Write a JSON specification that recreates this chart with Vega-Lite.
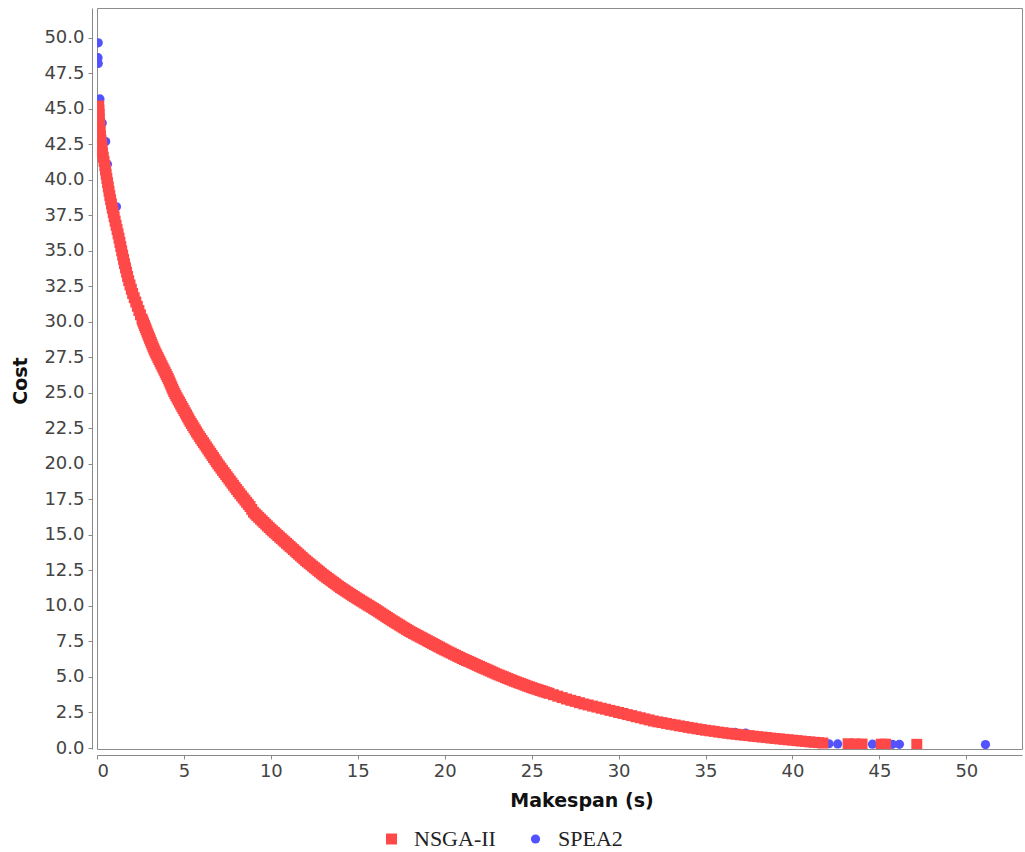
{
"$schema": "https://vega.github.io/schema/vega-lite/v6.json",
"width": 925, "height": 741,
"autosize": "none",
"padding": {"left": 97, "top": 8, "right": 3, "bottom": 103},
"background": "white",
"config": {"view": {"stroke": "#8c8c8c", "strokeWidth": 1}},
"data": {"values": [
{"algorithm":"SPEA2","makespan":0.07,"cost":49.65},
{"algorithm":"SPEA2","makespan":0.06,"cost":48.6},
{"algorithm":"SPEA2","makespan":0.07,"cost":48.2},
{"algorithm":"SPEA2","makespan":0.17,"cost":45.7},
{"algorithm":"SPEA2","makespan":0.3,"cost":44.0},
{"algorithm":"SPEA2","makespan":0.5,"cost":42.7},
{"algorithm":"SPEA2","makespan":0.6,"cost":41.1},
{"algorithm":"SPEA2","makespan":1.12,"cost":38.1},
{"algorithm":"SPEA2","makespan":32.0,"cost":1.9},
{"algorithm":"SPEA2","makespan":36.7,"cost":1.1},
{"algorithm":"SPEA2","makespan":37.3,"cost":1.04},
{"algorithm":"SPEA2","makespan":42.1,"cost":0.3},
{"algorithm":"SPEA2","makespan":42.6,"cost":0.29},
{"algorithm":"SPEA2","makespan":44.6,"cost":0.27},
{"algorithm":"SPEA2","makespan":45.75,"cost":0.26},
{"algorithm":"SPEA2","makespan":46.15,"cost":0.26},
{"algorithm":"SPEA2","makespan":51.1,"cost":0.24},
{"algorithm":"NSGA-II","makespan":0.1,"cost":45.2},
{"algorithm":"NSGA-II","makespan":0.11,"cost":44.9},
{"algorithm":"NSGA-II","makespan":0.12,"cost":44.6},
{"algorithm":"NSGA-II","makespan":0.13,"cost":44.3},
{"algorithm":"NSGA-II","makespan":0.14,"cost":44.0},
{"algorithm":"NSGA-II","makespan":0.16,"cost":43.7},
{"algorithm":"NSGA-II","makespan":0.18,"cost":43.4},
{"algorithm":"NSGA-II","makespan":0.2,"cost":43.1},
{"algorithm":"NSGA-II","makespan":0.23,"cost":42.8},
{"algorithm":"NSGA-II","makespan":0.26,"cost":42.5},
{"algorithm":"NSGA-II","makespan":0.29,"cost":42.2},
{"algorithm":"NSGA-II","makespan":0.315,"cost":41.9},
{"algorithm":"NSGA-II","makespan":0.36,"cost":41.6},
{"algorithm":"NSGA-II","makespan":0.405,"cost":41.3},
{"algorithm":"NSGA-II","makespan":0.45,"cost":41.0},
{"algorithm":"NSGA-II","makespan":0.489,"cost":40.7},
{"algorithm":"NSGA-II","makespan":0.528,"cost":40.4},
{"algorithm":"NSGA-II","makespan":0.567,"cost":40.1},
{"algorithm":"NSGA-II","makespan":0.608,"cost":39.8},
{"algorithm":"NSGA-II","makespan":0.65,"cost":39.5},
{"algorithm":"NSGA-II","makespan":0.692,"cost":39.2},
{"algorithm":"NSGA-II","makespan":0.736,"cost":38.9},
{"algorithm":"NSGA-II","makespan":0.784,"cost":38.6},
{"algorithm":"NSGA-II","makespan":0.832,"cost":38.3},
{"algorithm":"NSGA-II","makespan":0.88,"cost":38.0},
{"algorithm":"NSGA-II","makespan":0.934,"cost":37.7},
{"algorithm":"NSGA-II","makespan":0.988,"cost":37.4},
{"algorithm":"NSGA-II","makespan":1.042,"cost":37.1},
{"algorithm":"NSGA-II","makespan":1.098,"cost":36.8},
{"algorithm":"NSGA-II","makespan":1.155,"cost":36.5},
{"algorithm":"NSGA-II","makespan":1.212,"cost":36.2},
{"algorithm":"NSGA-II","makespan":1.267,"cost":35.9},
{"algorithm":"NSGA-II","makespan":1.318,"cost":35.6},
{"algorithm":"NSGA-II","makespan":1.369,"cost":35.3},
{"algorithm":"NSGA-II","makespan":1.42,"cost":35.0},
{"algorithm":"NSGA-II","makespan":1.474,"cost":34.7},
{"algorithm":"NSGA-II","makespan":1.528,"cost":34.4},
{"algorithm":"NSGA-II","makespan":1.582,"cost":34.1},
{"algorithm":"NSGA-II","makespan":1.64,"cost":33.8},
{"algorithm":"NSGA-II","makespan":1.7,"cost":33.5},
{"algorithm":"NSGA-II","makespan":1.76,"cost":33.2},
{"algorithm":"NSGA-II","makespan":1.825,"cost":32.9},
{"algorithm":"NSGA-II","makespan":1.9,"cost":32.6},
{"algorithm":"NSGA-II","makespan":1.975,"cost":32.3},
{"algorithm":"NSGA-II","makespan":2.05,"cost":32.0},
{"algorithm":"NSGA-II","makespan":2.14,"cost":31.7},
{"algorithm":"NSGA-II","makespan":2.23,"cost":31.4},
{"algorithm":"NSGA-II","makespan":2.32,"cost":31.1},
{"algorithm":"NSGA-II","makespan":2.41,"cost":30.8},
{"algorithm":"NSGA-II","makespan":2.5,"cost":30.5},
{"algorithm":"NSGA-II","makespan":2.59,"cost":30.2},
{"algorithm":"NSGA-II","makespan":2.682,"cost":29.9},
{"algorithm":"NSGA-II","makespan":2.778,"cost":29.6},
{"algorithm":"NSGA-II","makespan":2.874,"cost":29.3},
{"algorithm":"NSGA-II","makespan":2.97,"cost":29.0},
{"algorithm":"NSGA-II","makespan":3.069,"cost":28.7},
{"algorithm":"NSGA-II","makespan":3.168,"cost":28.4},
{"algorithm":"NSGA-II","makespan":3.267,"cost":28.1},
{"algorithm":"NSGA-II","makespan":3.38,"cost":27.8},
{"algorithm":"NSGA-II","makespan":3.5,"cost":27.5},
{"algorithm":"NSGA-II","makespan":3.62,"cost":27.2},
{"algorithm":"NSGA-II","makespan":3.74,"cost":26.9},
{"algorithm":"NSGA-II","makespan":3.86,"cost":26.6},
{"algorithm":"NSGA-II","makespan":3.98,"cost":26.3},
{"algorithm":"NSGA-II","makespan":4.1,"cost":26.0},
{"algorithm":"NSGA-II","makespan":4.205,"cost":25.7},
{"algorithm":"NSGA-II","makespan":4.31,"cost":25.4},
{"algorithm":"NSGA-II","makespan":4.415,"cost":25.1},
{"algorithm":"NSGA-II","makespan":4.54,"cost":24.8},
{"algorithm":"NSGA-II","makespan":4.675,"cost":24.5},
{"algorithm":"NSGA-II","makespan":4.81,"cost":24.2},
{"algorithm":"NSGA-II","makespan":4.945,"cost":23.9},
{"algorithm":"NSGA-II","makespan":5.08,"cost":23.6},
{"algorithm":"NSGA-II","makespan":5.215,"cost":23.3},
{"algorithm":"NSGA-II","makespan":5.35,"cost":23.0},
{"algorithm":"NSGA-II","makespan":5.5,"cost":22.7},
{"algorithm":"NSGA-II","makespan":5.65,"cost":22.4},
{"algorithm":"NSGA-II","makespan":5.8,"cost":22.1},
{"algorithm":"NSGA-II","makespan":5.96,"cost":21.8},
{"algorithm":"NSGA-II","makespan":6.125,"cost":21.5},
{"algorithm":"NSGA-II","makespan":6.29,"cost":21.2},
{"algorithm":"NSGA-II","makespan":6.455,"cost":20.9},
{"algorithm":"NSGA-II","makespan":6.62,"cost":20.6},
{"algorithm":"NSGA-II","makespan":6.785,"cost":20.3},
{"algorithm":"NSGA-II","makespan":6.95,"cost":20.0},
{"algorithm":"NSGA-II","makespan":7.13,"cost":19.7},
{"algorithm":"NSGA-II","makespan":7.31,"cost":19.4},
{"algorithm":"NSGA-II","makespan":7.49,"cost":19.1},
{"algorithm":"NSGA-II","makespan":7.67,"cost":18.8},
{"algorithm":"NSGA-II","makespan":7.85,"cost":18.5},
{"algorithm":"NSGA-II","makespan":8.03,"cost":18.2},
{"algorithm":"NSGA-II","makespan":8.215,"cost":17.9},
{"algorithm":"NSGA-II","makespan":8.41,"cost":17.6},
{"algorithm":"NSGA-II","makespan":8.605,"cost":17.3},
{"algorithm":"NSGA-II","makespan":8.8,"cost":17.0},
{"algorithm":"NSGA-II","makespan":9.0,"cost":16.6},
{"algorithm":"NSGA-II","makespan":9.2,"cost":16.36},
{"algorithm":"NSGA-II","makespan":9.4,"cost":16.12},
{"algorithm":"NSGA-II","makespan":9.6,"cost":15.88},
{"algorithm":"NSGA-II","makespan":9.8,"cost":15.64},
{"algorithm":"NSGA-II","makespan":10.0,"cost":15.4},
{"algorithm":"NSGA-II","makespan":10.2,"cost":15.18},
{"algorithm":"NSGA-II","makespan":10.4,"cost":14.96},
{"algorithm":"NSGA-II","makespan":10.6,"cost":14.74},
{"algorithm":"NSGA-II","makespan":10.8,"cost":14.52},
{"algorithm":"NSGA-II","makespan":11.0,"cost":14.3},
{"algorithm":"NSGA-II","makespan":11.2,"cost":14.08},
{"algorithm":"NSGA-II","makespan":11.4,"cost":13.86},
{"algorithm":"NSGA-II","makespan":11.6,"cost":13.64},
{"algorithm":"NSGA-II","makespan":11.8,"cost":13.42},
{"algorithm":"NSGA-II","makespan":12.0,"cost":13.2},
{"algorithm":"NSGA-II","makespan":12.2,"cost":13.0},
{"algorithm":"NSGA-II","makespan":12.4,"cost":12.8},
{"algorithm":"NSGA-II","makespan":12.6,"cost":12.6},
{"algorithm":"NSGA-II","makespan":12.8,"cost":12.4},
{"algorithm":"NSGA-II","makespan":13.0,"cost":12.2},
{"algorithm":"NSGA-II","makespan":13.2,"cost":12.02},
{"algorithm":"NSGA-II","makespan":13.4,"cost":11.84},
{"algorithm":"NSGA-II","makespan":13.6,"cost":11.66},
{"algorithm":"NSGA-II","makespan":13.8,"cost":11.48},
{"algorithm":"NSGA-II","makespan":14.0,"cost":11.3},
{"algorithm":"NSGA-II","makespan":14.2,"cost":11.14},
{"algorithm":"NSGA-II","makespan":14.4,"cost":10.98},
{"algorithm":"NSGA-II","makespan":14.6,"cost":10.82},
{"algorithm":"NSGA-II","makespan":14.8,"cost":10.66},
{"algorithm":"NSGA-II","makespan":15.0,"cost":10.5},
{"algorithm":"NSGA-II","makespan":15.2,"cost":10.35},
{"algorithm":"NSGA-II","makespan":15.4,"cost":10.2},
{"algorithm":"NSGA-II","makespan":15.6,"cost":10.05},
{"algorithm":"NSGA-II","makespan":15.8,"cost":9.9},
{"algorithm":"NSGA-II","makespan":16.0,"cost":9.75},
{"algorithm":"NSGA-II","makespan":16.2,"cost":9.59},
{"algorithm":"NSGA-II","makespan":16.4,"cost":9.43},
{"algorithm":"NSGA-II","makespan":16.6,"cost":9.27},
{"algorithm":"NSGA-II","makespan":16.8,"cost":9.11},
{"algorithm":"NSGA-II","makespan":17.0,"cost":8.95},
{"algorithm":"NSGA-II","makespan":17.2,"cost":8.8},
{"algorithm":"NSGA-II","makespan":17.4,"cost":8.65},
{"algorithm":"NSGA-II","makespan":17.6,"cost":8.5},
{"algorithm":"NSGA-II","makespan":17.8,"cost":8.35},
{"algorithm":"NSGA-II","makespan":18.0,"cost":8.2},
{"algorithm":"NSGA-II","makespan":18.2,"cost":8.07},
{"algorithm":"NSGA-II","makespan":18.4,"cost":7.94},
{"algorithm":"NSGA-II","makespan":18.6,"cost":7.81},
{"algorithm":"NSGA-II","makespan":18.8,"cost":7.68},
{"algorithm":"NSGA-II","makespan":19.0,"cost":7.55},
{"algorithm":"NSGA-II","makespan":19.2,"cost":7.42},
{"algorithm":"NSGA-II","makespan":19.4,"cost":7.29},
{"algorithm":"NSGA-II","makespan":19.6,"cost":7.16},
{"algorithm":"NSGA-II","makespan":19.8,"cost":7.03},
{"algorithm":"NSGA-II","makespan":20.0,"cost":6.9},
{"algorithm":"NSGA-II","makespan":20.25,"cost":6.75},
{"algorithm":"NSGA-II","makespan":20.5,"cost":6.6},
{"algorithm":"NSGA-II","makespan":20.75,"cost":6.45},
{"algorithm":"NSGA-II","makespan":21.0,"cost":6.3},
{"algorithm":"NSGA-II","makespan":21.25,"cost":6.16},
{"algorithm":"NSGA-II","makespan":21.5,"cost":6.03},
{"algorithm":"NSGA-II","makespan":21.75,"cost":5.89},
{"algorithm":"NSGA-II","makespan":22.0,"cost":5.75},
{"algorithm":"NSGA-II","makespan":22.25,"cost":5.61},
{"algorithm":"NSGA-II","makespan":22.5,"cost":5.48},
{"algorithm":"NSGA-II","makespan":22.75,"cost":5.34},
{"algorithm":"NSGA-II","makespan":23.0,"cost":5.2},
{"algorithm":"NSGA-II","makespan":23.25,"cost":5.08},
{"algorithm":"NSGA-II","makespan":23.5,"cost":4.95},
{"algorithm":"NSGA-II","makespan":23.75,"cost":4.83},
{"algorithm":"NSGA-II","makespan":24.0,"cost":4.7},
{"algorithm":"NSGA-II","makespan":24.25,"cost":4.59},
{"algorithm":"NSGA-II","makespan":24.5,"cost":4.48},
{"algorithm":"NSGA-II","makespan":24.75,"cost":4.36},
{"algorithm":"NSGA-II","makespan":25.0,"cost":4.25},
{"algorithm":"NSGA-II","makespan":25.25,"cost":4.15},
{"algorithm":"NSGA-II","makespan":25.5,"cost":4.05},
{"algorithm":"NSGA-II","makespan":25.75,"cost":3.95},
{"algorithm":"NSGA-II","makespan":26.0,"cost":3.85},
{"algorithm":"NSGA-II","makespan":26.25,"cost":3.75},
{"algorithm":"NSGA-II","makespan":26.5,"cost":3.65},
{"algorithm":"NSGA-II","makespan":26.75,"cost":3.55},
{"algorithm":"NSGA-II","makespan":27.0,"cost":3.45},
{"algorithm":"NSGA-II","makespan":27.25,"cost":3.36},
{"algorithm":"NSGA-II","makespan":27.5,"cost":3.28},
{"algorithm":"NSGA-II","makespan":27.75,"cost":3.19},
{"algorithm":"NSGA-II","makespan":28.0,"cost":3.1},
{"algorithm":"NSGA-II","makespan":28.25,"cost":3.03},
{"algorithm":"NSGA-II","makespan":28.5,"cost":2.95},
{"algorithm":"NSGA-II","makespan":28.75,"cost":2.88},
{"algorithm":"NSGA-II","makespan":29.0,"cost":2.8},
{"algorithm":"NSGA-II","makespan":29.25,"cost":2.73},
{"algorithm":"NSGA-II","makespan":29.5,"cost":2.65},
{"algorithm":"NSGA-II","makespan":29.75,"cost":2.58},
{"algorithm":"NSGA-II","makespan":30.0,"cost":2.5},
{"algorithm":"NSGA-II","makespan":30.25,"cost":2.43},
{"algorithm":"NSGA-II","makespan":30.5,"cost":2.35},
{"algorithm":"NSGA-II","makespan":30.75,"cost":2.28},
{"algorithm":"NSGA-II","makespan":31.0,"cost":2.2},
{"algorithm":"NSGA-II","makespan":31.25,"cost":2.13},
{"algorithm":"NSGA-II","makespan":31.5,"cost":2.05},
{"algorithm":"NSGA-II","makespan":31.75,"cost":1.98},
{"algorithm":"NSGA-II","makespan":32.0,"cost":1.9},
{"algorithm":"NSGA-II","makespan":32.25,"cost":1.84},
{"algorithm":"NSGA-II","makespan":32.5,"cost":1.79},
{"algorithm":"NSGA-II","makespan":32.75,"cost":1.73},
{"algorithm":"NSGA-II","makespan":33.0,"cost":1.67},
{"algorithm":"NSGA-II","makespan":33.25,"cost":1.62},
{"algorithm":"NSGA-II","makespan":33.5,"cost":1.56},
{"algorithm":"NSGA-II","makespan":33.75,"cost":1.51},
{"algorithm":"NSGA-II","makespan":34.0,"cost":1.45},
{"algorithm":"NSGA-II","makespan":34.25,"cost":1.4},
{"algorithm":"NSGA-II","makespan":34.5,"cost":1.35},
{"algorithm":"NSGA-II","makespan":34.75,"cost":1.3},
{"algorithm":"NSGA-II","makespan":35.0,"cost":1.25},
{"algorithm":"NSGA-II","makespan":35.25,"cost":1.21},
{"algorithm":"NSGA-II","makespan":35.5,"cost":1.17},
{"algorithm":"NSGA-II","makespan":35.75,"cost":1.12},
{"algorithm":"NSGA-II","makespan":36.0,"cost":1.08},
{"algorithm":"NSGA-II","makespan":36.25,"cost":1.04},
{"algorithm":"NSGA-II","makespan":36.5,"cost":1.0},
{"algorithm":"NSGA-II","makespan":36.75,"cost":0.97},
{"algorithm":"NSGA-II","makespan":37.0,"cost":0.93},
{"algorithm":"NSGA-II","makespan":37.25,"cost":0.9},
{"algorithm":"NSGA-II","makespan":37.5,"cost":0.87},
{"algorithm":"NSGA-II","makespan":37.75,"cost":0.83},
{"algorithm":"NSGA-II","makespan":38.0,"cost":0.8},
{"algorithm":"NSGA-II","makespan":38.25,"cost":0.77},
{"algorithm":"NSGA-II","makespan":38.5,"cost":0.74},
{"algorithm":"NSGA-II","makespan":38.75,"cost":0.7},
{"algorithm":"NSGA-II","makespan":39.0,"cost":0.67},
{"algorithm":"NSGA-II","makespan":39.25,"cost":0.64},
{"algorithm":"NSGA-II","makespan":39.5,"cost":0.61},
{"algorithm":"NSGA-II","makespan":39.75,"cost":0.58},
{"algorithm":"NSGA-II","makespan":40.0,"cost":0.55},
{"algorithm":"NSGA-II","makespan":40.25,"cost":0.52},
{"algorithm":"NSGA-II","makespan":40.5,"cost":0.49},
{"algorithm":"NSGA-II","makespan":40.75,"cost":0.46},
{"algorithm":"NSGA-II","makespan":41.0,"cost":0.43},
{"algorithm":"NSGA-II","makespan":41.25,"cost":0.4},
{"algorithm":"NSGA-II","makespan":41.5,"cost":0.38},
{"algorithm":"NSGA-II","makespan":41.75,"cost":0.35},
{"algorithm":"NSGA-II","makespan":43.2,"cost":0.3},
{"algorithm":"NSGA-II","makespan":43.6,"cost":0.29},
{"algorithm":"NSGA-II","makespan":44.0,"cost":0.28},
{"algorithm":"NSGA-II","makespan":45.1,"cost":0.27},
{"algorithm":"NSGA-II","makespan":45.35,"cost":0.27},
{"algorithm":"NSGA-II","makespan":47.15,"cost":0.26},
{"algorithm":"NSGA-II","makespan":2.636,"cost":30.05},
{"algorithm":"NSGA-II","makespan":2.73,"cost":29.75},
{"algorithm":"NSGA-II","makespan":2.826,"cost":29.45},
{"algorithm":"NSGA-II","makespan":2.922,"cost":29.15},
{"algorithm":"NSGA-II","makespan":3.02,"cost":28.85},
{"algorithm":"NSGA-II","makespan":3.118,"cost":28.55},
{"algorithm":"NSGA-II","makespan":3.218,"cost":28.25},
{"algorithm":"NSGA-II","makespan":3.323,"cost":27.95},
{"algorithm":"NSGA-II","makespan":3.44,"cost":27.65},
{"algorithm":"NSGA-II","makespan":3.56,"cost":27.35},
{"algorithm":"NSGA-II","makespan":3.68,"cost":27.05},
{"algorithm":"NSGA-II","makespan":3.8,"cost":26.75},
{"algorithm":"NSGA-II","makespan":3.92,"cost":26.45},
{"algorithm":"NSGA-II","makespan":4.04,"cost":26.15},
{"algorithm":"NSGA-II","makespan":4.153,"cost":25.85},
{"algorithm":"NSGA-II","makespan":4.258,"cost":25.55},
{"algorithm":"NSGA-II","makespan":4.363,"cost":25.25},
{"algorithm":"NSGA-II","makespan":4.478,"cost":24.95},
{"algorithm":"NSGA-II","makespan":4.608,"cost":24.65},
{"algorithm":"NSGA-II","makespan":4.743,"cost":24.35},
{"algorithm":"NSGA-II","makespan":4.878,"cost":24.05},
{"algorithm":"NSGA-II","makespan":5.013,"cost":23.75},
{"algorithm":"NSGA-II","makespan":5.148,"cost":23.45},
{"algorithm":"NSGA-II","makespan":5.283,"cost":23.15},
{"algorithm":"NSGA-II","makespan":5.425,"cost":22.85},
{"algorithm":"NSGA-II","makespan":5.575,"cost":22.55},
{"algorithm":"NSGA-II","makespan":5.725,"cost":22.25},
{"algorithm":"NSGA-II","makespan":5.88,"cost":21.95},
{"algorithm":"NSGA-II","makespan":6.043,"cost":21.65},
{"algorithm":"NSGA-II","makespan":6.208,"cost":21.35},
{"algorithm":"NSGA-II","makespan":6.373,"cost":21.05},
{"algorithm":"NSGA-II","makespan":6.538,"cost":20.75},
{"algorithm":"NSGA-II","makespan":6.703,"cost":20.45},
{"algorithm":"NSGA-II","makespan":6.868,"cost":20.15},
{"algorithm":"NSGA-II","makespan":7.04,"cost":19.85},
{"algorithm":"NSGA-II","makespan":7.22,"cost":19.55},
{"algorithm":"NSGA-II","makespan":7.4,"cost":19.25},
{"algorithm":"NSGA-II","makespan":7.58,"cost":18.95},
{"algorithm":"NSGA-II","makespan":7.76,"cost":18.65},
{"algorithm":"NSGA-II","makespan":7.94,"cost":18.35},
{"algorithm":"NSGA-II","makespan":8.123,"cost":18.05},
{"algorithm":"NSGA-II","makespan":8.313,"cost":17.75},
{"algorithm":"NSGA-II","makespan":8.508,"cost":17.45},
{"algorithm":"NSGA-II","makespan":8.703,"cost":17.15},
{"algorithm":"NSGA-II","makespan":8.9,"cost":16.8},
{"algorithm":"NSGA-II","makespan":9.1,"cost":16.48},
{"algorithm":"NSGA-II","makespan":9.3,"cost":16.24},
{"algorithm":"NSGA-II","makespan":9.5,"cost":16.0},
{"algorithm":"NSGA-II","makespan":9.7,"cost":15.76},
{"algorithm":"NSGA-II","makespan":9.9,"cost":15.52},
{"algorithm":"NSGA-II","makespan":10.1,"cost":15.29},
{"algorithm":"NSGA-II","makespan":10.3,"cost":15.07},
{"algorithm":"NSGA-II","makespan":10.5,"cost":14.85},
{"algorithm":"NSGA-II","makespan":10.7,"cost":14.63},
{"algorithm":"NSGA-II","makespan":10.9,"cost":14.41},
{"algorithm":"NSGA-II","makespan":11.1,"cost":14.19},
{"algorithm":"NSGA-II","makespan":11.3,"cost":13.97},
{"algorithm":"NSGA-II","makespan":11.5,"cost":13.75},
{"algorithm":"NSGA-II","makespan":11.7,"cost":13.53},
{"algorithm":"NSGA-II","makespan":11.9,"cost":13.31},
{"algorithm":"NSGA-II","makespan":12.1,"cost":13.1},
{"algorithm":"NSGA-II","makespan":12.3,"cost":12.9},
{"algorithm":"NSGA-II","makespan":12.5,"cost":12.7},
{"algorithm":"NSGA-II","makespan":12.7,"cost":12.5},
{"algorithm":"NSGA-II","makespan":12.9,"cost":12.3},
{"algorithm":"NSGA-II","makespan":13.1,"cost":12.11},
{"algorithm":"NSGA-II","makespan":13.3,"cost":11.93},
{"algorithm":"NSGA-II","makespan":13.5,"cost":11.75},
{"algorithm":"NSGA-II","makespan":13.7,"cost":11.57},
{"algorithm":"NSGA-II","makespan":13.9,"cost":11.39},
{"algorithm":"NSGA-II","makespan":14.1,"cost":11.22},
{"algorithm":"NSGA-II","makespan":14.3,"cost":11.06},
{"algorithm":"NSGA-II","makespan":14.5,"cost":10.9},
{"algorithm":"NSGA-II","makespan":14.7,"cost":10.74},
{"algorithm":"NSGA-II","makespan":14.9,"cost":10.58},
{"algorithm":"NSGA-II","makespan":15.1,"cost":10.43},
{"algorithm":"NSGA-II","makespan":15.3,"cost":10.28},
{"algorithm":"NSGA-II","makespan":15.5,"cost":10.13},
{"algorithm":"NSGA-II","makespan":15.7,"cost":9.98},
{"algorithm":"NSGA-II","makespan":15.9,"cost":9.83},
{"algorithm":"NSGA-II","makespan":16.1,"cost":9.67},
{"algorithm":"NSGA-II","makespan":16.3,"cost":9.51},
{"algorithm":"NSGA-II","makespan":16.5,"cost":9.35},
{"algorithm":"NSGA-II","makespan":16.7,"cost":9.19},
{"algorithm":"NSGA-II","makespan":16.9,"cost":9.03},
{"algorithm":"NSGA-II","makespan":17.1,"cost":8.88},
{"algorithm":"NSGA-II","makespan":17.3,"cost":8.73},
{"algorithm":"NSGA-II","makespan":17.5,"cost":8.58},
{"algorithm":"NSGA-II","makespan":17.7,"cost":8.43},
{"algorithm":"NSGA-II","makespan":17.9,"cost":8.28},
{"algorithm":"NSGA-II","makespan":18.1,"cost":8.14},
{"algorithm":"NSGA-II","makespan":18.3,"cost":8.01},
{"algorithm":"NSGA-II","makespan":18.5,"cost":7.88},
{"algorithm":"NSGA-II","makespan":18.7,"cost":7.75},
{"algorithm":"NSGA-II","makespan":18.9,"cost":7.62},
{"algorithm":"NSGA-II","makespan":19.1,"cost":7.49},
{"algorithm":"NSGA-II","makespan":19.3,"cost":7.36},
{"algorithm":"NSGA-II","makespan":19.5,"cost":7.23},
{"algorithm":"NSGA-II","makespan":19.7,"cost":7.1},
{"algorithm":"NSGA-II","makespan":19.9,"cost":6.97},
{"algorithm":"NSGA-II","makespan":20.125,"cost":6.83},
{"algorithm":"NSGA-II","makespan":20.375,"cost":6.68},
{"algorithm":"NSGA-II","makespan":20.625,"cost":6.53},
{"algorithm":"NSGA-II","makespan":20.875,"cost":6.38},
{"algorithm":"NSGA-II","makespan":21.125,"cost":6.23},
{"algorithm":"NSGA-II","makespan":21.375,"cost":6.1},
{"algorithm":"NSGA-II","makespan":21.625,"cost":5.96},
{"algorithm":"NSGA-II","makespan":21.875,"cost":5.82},
{"algorithm":"NSGA-II","makespan":22.125,"cost":5.68},
{"algorithm":"NSGA-II","makespan":22.375,"cost":5.55},
{"algorithm":"NSGA-II","makespan":22.625,"cost":5.41},
{"algorithm":"NSGA-II","makespan":22.875,"cost":5.27},
{"algorithm":"NSGA-II","makespan":23.125,"cost":5.14},
{"algorithm":"NSGA-II","makespan":23.375,"cost":5.02},
{"algorithm":"NSGA-II","makespan":23.625,"cost":4.89},
{"algorithm":"NSGA-II","makespan":23.875,"cost":4.77},
{"algorithm":"NSGA-II","makespan":24.125,"cost":4.65},
{"algorithm":"NSGA-II","makespan":24.375,"cost":4.54},
{"algorithm":"NSGA-II","makespan":24.625,"cost":4.42},
{"algorithm":"NSGA-II","makespan":24.875,"cost":4.31},
{"algorithm":"NSGA-II","makespan":25.125,"cost":4.2},
{"algorithm":"NSGA-II","makespan":25.375,"cost":4.1},
{"algorithm":"NSGA-II","makespan":25.625,"cost":4.0},
{"algorithm":"NSGA-II","makespan":25.875,"cost":3.9}
]},
"mark": {"type": "point", "filled": true, "opacity": 1, "clip": true, "strokeWidth": 0},
"encoding": {
  "x": {"field": "makespan", "type": "quantitative",
    "scale": {"domain": [0, 53.2], "nice": false, "zero": false},
    "axis": {"values": [0,5,10,15,20,25,30,35,40,45,50], "format": "d", "offset": 6, "grid": false,
      "domainColor": "#888888", "tickColor": "#888888", "tickSize": 4,
      "labelFont": "DejaVu Sans", "labelFontSize": 18, "labelColor": "#444444", "labelPadding": 3,
      "title": "Makespan (s)", "titleFont": "DejaVu Sans", "titleFontSize": 19, "titleFontWeight": "bold", "titleColor": "#111111",
      "titleX": 484.5, "titleY": 45, "titleBaseline": "middle", "titleAlign": "center"}},
  "y": {"field": "cost", "type": "quantitative",
    "scale": {"domain": [-0.07, 52.1], "nice": false, "zero": false},
    "axis": {"values": [0,2.5,5,7.5,10,12.5,15,17.5,20,22.5,25,27.5,30,32.5,35,37.5,40,42.5,45,47.5,50], "format": ".1f", "offset": 5, "grid": false,
      "domainColor": "#888888", "tickColor": "#888888", "tickSize": 4,
      "labelFont": "DejaVu Sans", "labelFontSize": 18, "labelColor": "#444444", "labelPadding": 4,
      "title": "Cost", "titleFont": "DejaVu Sans", "titleFontSize": 19, "titleFontWeight": "bold", "titleColor": "#111111",
      "titleX": -71.5, "titleY": 372.5, "titleAngle": -90, "titleBaseline": "middle", "titleAlign": "center"}},
  "color": {"field": "algorithm", "type": "nominal",
    "scale": {"domain": ["NSGA-II", "SPEA2"], "range": ["#ff4848", "#5252ff"]},
    "legend": {"orient": "none", "legendX": 283.5, "legendY": 820, "direction": "horizontal", "title": null, "padding": 0,
      "labelFont": "Liberation Serif", "labelFontSize": 22, "labelColor": "#222222", "symbolSize": 55, "labelOffset": 11.5, "columnPadding": 28}},
  "shape": {"field": "algorithm", "type": "nominal",
    "scale": {"domain": ["NSGA-II", "SPEA2"], "range": ["square", "circle"]},
    "legend": {"orient": "none", "legendX": 283.5, "legendY": 820, "direction": "horizontal", "title": null, "padding": 0,
      "labelFont": "Liberation Serif", "labelFontSize": 22, "labelColor": "#222222", "symbolSize": 55, "labelOffset": 11.5, "columnPadding": 28}},
  "size": {"field": "algorithm", "type": "ordinal",
    "scale": {"domain": ["NSGA-II", "SPEA2"], "range": [120, 85]}, "legend": null}
}
}
